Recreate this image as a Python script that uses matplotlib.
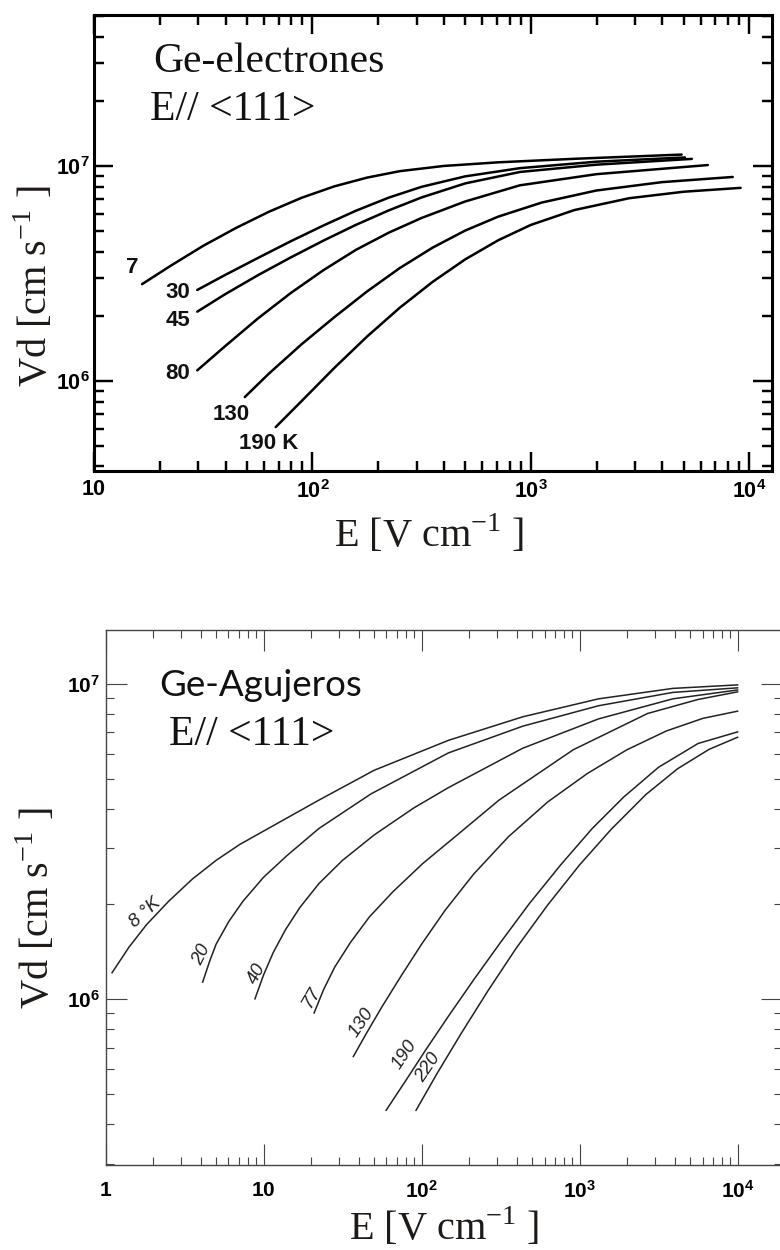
import numpy as np
import matplotlib
matplotlib.use('Agg')
import matplotlib.pyplot as plt
from matplotlib.ticker import FixedLocator, LogLocator, NullFormatter

plt.rcParams['mathtext.fontset'] = 'custom'
plt.rcParams['mathtext.rm'] = 'Liberation Serif'
plt.rcParams['mathtext.bf'] = 'Liberation Sans:bold'
plt.rcParams['mathtext.sf'] = 'Liberation Sans'

# ---- Ge electrons, E // <111>  (E in V/cm, v in cm/s)
el_temps = ['7', '30', '45', '80', '130', '190 K']
E_el_7 = [16.6, 22.4, 31.6, 44.7, 63.1, 89.1, 126, 178, 251, 398, 708, 1585, 4898]
V_el_7 = [2.82e6, 3.43e6, 4.25e6, 5.15e6, 6.12e6, 7.11e6, 8.04e6, 8.83e6, 9.46e6, 1.0e7, 1.04e7, 1.08e7, 1.13e7]
E_el_30 = [29.7, 39.8, 56.2, 79.4, 112, 158, 224, 316, 501, 891, 1995, 5070]
V_el_30 = [2.65e6, 3.11e6, 3.73e6, 4.46e6, 5.28e6, 6.19e6, 7.13e6, 8.0e6, 8.95e6, 9.77e6, 1.047e7, 1.096e7]
E_el_45 = [29.7, 39.8, 56.2, 79.4, 112, 158, 224, 316, 501, 891, 1995, 5458]
V_el_45 = [2.10e6, 2.53e6, 3.10e6, 3.75e6, 4.49e6, 5.32e6, 6.22e6, 7.14e6, 8.30e6, 9.38e6, 1.014e7, 1.079e7]
E_el_80 = [29.7, 39.8, 56.2, 79.4, 112, 158, 224, 316, 501, 891, 1995, 6457]
V_el_80 = [1.12e6, 1.45e6, 1.95e6, 2.56e6, 3.27e6, 4.07e6, 4.90e6, 5.73e6, 6.84e6, 8.13e6, 9.16e6, 1.01e7]
E_el_130 = [49, 63.1, 89.1, 126, 178, 251, 355, 501, 708, 1122, 1995, 3981, 8395]
V_el_130 = [8.41e5, 1.08e6, 1.48e6, 1.98e6, 2.61e6, 3.35e6, 4.17e6, 5.01e6, 5.81e6, 6.76e6, 7.69e6, 8.41e6, 8.89e6]
E_el_190 = [67.9, 89.1, 126, 178, 251, 355, 501, 708, 1000, 1585, 2818, 5012, 9120]
V_el_190 = [6.10e5, 8.05e5, 1.15e6, 1.61e6, 2.19e6, 2.89e6, 3.68e6, 4.51e6, 5.32e6, 6.24e6, 7.08e6, 7.59e6, 7.91e6]
el_label_E = [14.9, 24.2, 24.2, 24.2, 42.4, 63.2]
el_label_V = [3.36e6, 2.59e6, 1.92e6, 1.08e6, 6.95e5, 5.1e5]

# ---- Ge holes, E // <111>
h_temps = ['8 °K', '20', '40', '77', '130', '190', '220']
E_h_8 = [1.10, 1.41, 1.82, 2.51, 3.55, 5.01, 7.08, 10.7, 22.4, 50.1, 148, 437, 1318, 3890, 1e4]
V_h_8 = [1.21e6, 1.46e6, 1.72e6, 2.04e6, 2.40e6, 2.75e6, 3.09e6, 3.47e6, 4.27e6, 5.31e6, 6.61e6, 7.85e6, 8.95e6, 9.66e6, 9.91e6]
E_h_20 = [4.12, 4.57, 5.01, 6.03, 7.41, 10.0, 14.1, 22.4, 47.9, 148, 437, 1318, 3890, 1e4]
V_h_20 = [1.13e6, 1.32e6, 1.49e6, 1.76e6, 2.04e6, 2.43e6, 2.85e6, 3.47e6, 4.47e6, 6.03e6, 7.33e6, 8.51e6, 9.38e6, 9.70e6]
E_h_40 = [8.83, 10.0, 11.5, 13.8, 17.0, 22.4, 31.6, 50.1, 89.1, 148, 437, 1318, 3890, 1e4]
V_h_40 = [1.0e6, 1.19e6, 1.40e6, 1.66e6, 1.95e6, 2.32e6, 2.75e6, 3.31e6, 4.03e6, 4.68e6, 6.24e6, 7.73e6, 8.95e6, 9.55e6]
E_h_77 = [20.9, 24.0, 28.2, 35.5, 46.8, 66.1, 102, 178, 309, 912, 2692, 5623, 1e4]
V_h_77 = [9.02e5, 1.07e6, 1.26e6, 1.51e6, 1.82e6, 2.19e6, 2.69e6, 3.39e6, 4.27e6, 6.17e6, 8.04e6, 8.91e6, 9.42e6]
E_h_130 = [37.0, 44.7, 56.2, 74.1, 100, 141, 214, 355, 631, 1122, 1995, 3548, 6026, 1e4]
V_h_130 = [6.56e5, 7.76e5, 9.44e5, 1.18e6, 1.49e6, 1.91e6, 2.49e6, 3.27e6, 4.22e6, 5.19e6, 6.17e6, 7.08e6, 7.76e6, 8.18e6]
E_h_190 = [59.7, 79.4, 107, 148, 214, 316, 479, 759, 1202, 1905, 3162, 5623, 1e4]
V_h_190 = [4.43e5, 5.50e5, 6.92e5, 8.81e5, 1.15e6, 1.51e6, 2.0e6, 2.66e6, 3.47e6, 4.37e6, 5.43e6, 6.46e6, 7.03e6]
E_h_220 = [92.3, 126, 178, 263, 398, 631, 1000, 1585, 2630, 4169, 6607, 1e4]
V_h_220 = [4.43e5, 5.82e5, 7.76e5, 1.06e6, 1.45e6, 1.99e6, 2.66e6, 3.45e6, 4.45e6, 5.37e6, 6.19e6, 6.76e6]
h_label_E = [1.78, 4.08, 9.1, 20.0, 41.4, 77.6, 109.6]
h_label_V = [1.87e6, 1.38e6, 1.2e6, 1.01e6, 8.4e5, 6.64e5, 6.04e5]
h_label_rot = [42, 64, 62, 60, 56, 56, 56]

x_top_ticks = [10, 100, 1000, 10000]
x_top_labels = [r'$\mathbf{10}$', r'$\mathbf{10^{2}}$', r'$\mathbf{10^{3}}$', r'$\mathbf{10^{4}}$']
x_bot_ticks = [1, 10, 100, 1000, 10000]
x_bot_labels = [r'$\mathbf{1}$', r'$\mathbf{10}$', r'$\mathbf{10^{2}}$', r'$\mathbf{10^{3}}$', r'$\mathbf{10^{4}}$']
y_ticks = [1e6, 1e7]
y_labels = [r'$\mathbf{10^{6}}$', r'$\mathbf{10^{7}}$']

W, H = 780, 1250
fig = plt.figure(figsize=(W / 100, H / 100), dpi=100)


def fx(px):
    return px / W


def fy(py):
    return 1 - py / H


def style_axes(ax, xticks, xlabels, lw, col, maj, mnr, xpad, ypad, lsize):
    ax.set_xscale('log')
    ax.set_yscale('log')
    ax.xaxis.set_major_locator(FixedLocator(xticks))
    ax.set_xticklabels(xlabels)
    ax.yaxis.set_major_locator(FixedLocator(y_ticks))
    ax.set_yticklabels(y_labels)
    for a in (ax.xaxis, ax.yaxis):
        a.set_minor_locator(LogLocator(base=10, subs=np.arange(2, 10), numticks=20))
        a.set_minor_formatter(NullFormatter())
    ax.tick_params(which='both', direction='in', top=True, right=True,
                   width=lw * 0.8, color=col, labelsize=lsize)
    ax.tick_params(which='major', length=maj)
    ax.tick_params(which='minor', length=mnr)
    ax.tick_params(axis='x', pad=xpad)
    ax.tick_params(axis='y', pad=ypad)
    for s in ax.spines.values():
        s.set_linewidth(lw)
        s.set_color(col)


label_font = dict(family='Liberation Serif', size=29, color='#1e1a18')
ylab = 'Vd [cm s$^{\\mathregular{-1}}$ ]'
xlab = 'E [V cm$^{\\mathregular{-1}}$ ]'

# ---------------- top panel: electrons
ax1 = fig.add_axes([fx(94), fy(471), fx(772 - 94), (471 - 15) / H])
style_axes(ax1, x_top_ticks, x_top_labels, 2.2, 'black', 14, 7, 6, 3, 15.5)
ax1.set_xlim(10, 1.27e4)
ax1.set_ylim(3.81e5, 5.04e7)

el_curves = [(E_el_7, V_el_7), (E_el_30, V_el_30), (E_el_45, V_el_45),
             (E_el_80, V_el_80), (E_el_130, V_el_130), (E_el_190, V_el_190)]
for E, V in el_curves:
    ax1.plot(E, V, color='black', lw=1.8, solid_capstyle='round', solid_joinstyle='round')
for t, e, v in zip(el_temps, el_label_E, el_label_V):
    ax1.text(e, v, t, ha='center', va='center', family='Liberation Sans',
             fontsize=16, fontweight='bold', color='#111111')

fig.text(fx(153), fy(72), 'Ge-electrones', ha='left', va='baseline',
         family='Liberation Serif', size=30, color='#111111')
fig.text(fx(150), fy(120), 'E// <111>', ha='left', va='baseline',
         family='Liberation Serif', size=30, color='#111111')
fig.text(fx(35), fy(286), ylab, rotation=90, ha='center', va='center', **label_font)
fig.text(fx(429), fy(535), xlab, ha='center', va='center', **label_font)

# ---------------- bottom panel: holes
ax2 = fig.add_axes([fx(105.5), fy(1165), fx(782 - 105.5), (1165 - 630) / H])
style_axes(ax2, x_bot_ticks, x_bot_labels, 1.0, '#444444', 15, 6, 11, 4, 15)
ax2.set_xlim(1, 1.91e4)
ax2.set_ylim(2.97e5, 1.48e7)

h_curves = [(E_h_8, V_h_8), (E_h_20, V_h_20), (E_h_40, V_h_40), (E_h_77, V_h_77),
            (E_h_130, V_h_130), (E_h_190, V_h_190), (E_h_220, V_h_220)]
for E, V in h_curves:
    ax2.plot(E, V, color='#222222', lw=1.1, solid_joinstyle='round')
for t, e, v, r in zip(h_temps, h_label_E, h_label_V, h_label_rot):
    ax2.text(e, v, t, ha='center', va='center', rotation=r, rotation_mode='anchor',
             family='Liberation Sans', fontsize=13.5, style='italic', color='#222222')

fig.text(fx(159), fy(696), 'Ge-Agujeros', ha='left', va='baseline',
         family='Lato', size=26.5, color='#111111')
fig.text(fx(169), fy(745), 'E// <111>', ha='left', va='baseline',
         family='Liberation Serif', size=30, color='#111111')
fig.text(fx(37), fy(908), ylab, rotation=90, ha='center', va='center', **label_font)
fig.text(fx(444), fy(1228), xlab, ha='center', va='center', **label_font)

fig.savefig('out.png', dpi=100)
